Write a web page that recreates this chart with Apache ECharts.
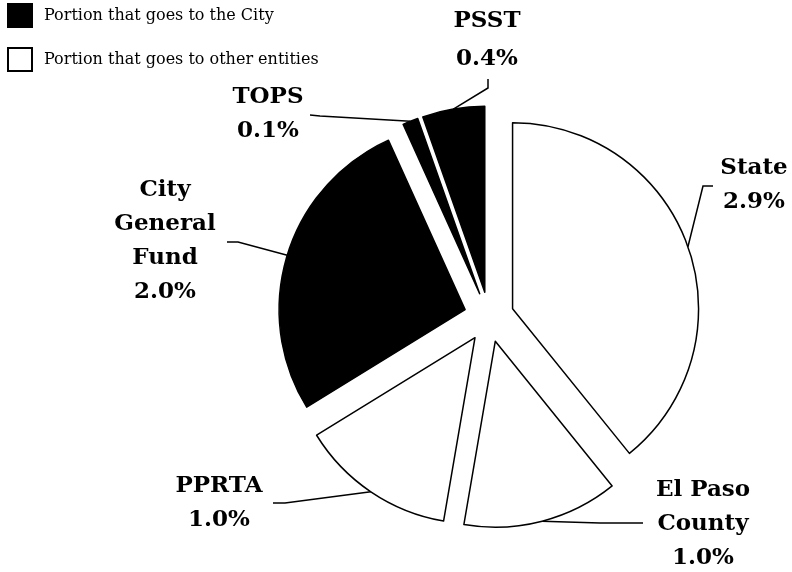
<!DOCTYPE html>
<html>
<head>
<meta charset="utf-8">
<title>Tax rate split</title>
<script src="https://cdn.jsdelivr.net/npm/echarts@6/dist/echarts.min.js"></script>
<style>
  html, body { margin: 0; padding: 0; background: #fff; }
  #chart { width: 792px; height: 572px; }
</style>
</head>
<body>
<div id="chart"></div>
<script>
// slices, clockwise from 12 o'clock
const sliceNames = ['State', 'El Paso County', 'PPRTA', 'City General Fund', 'TOPS', 'PSST']
const sliceLabels = ['State', 'El Paso\nCounty', 'PPRTA', 'City\nGeneral\nFund', 'TOPS', 'PSST']
const sliceRates = [2.9, 1.0, 1.0, 2.0, 0.1, 0.4]
const goesToCity = [false, false, false, true, true, true]
const legendNames = ['Portion that goes to the City', 'Portion that goes to other entities']

// layout
const pieCenter = [489, 317]
const pieRadius = 186
const explode = 25
// label block centres and leader line bends (page pixels)
const labelSpots = [[754, 185], [703, 524], [219, 503], [165, 241], [268, 114], [487, 40]]
const leaderBends = [
  [[703, 186], [713, 186]],
  [[600, 523], [643, 523]],
  [[285, 503], [273, 503]],
  [[238, 242], [227, 242]],
  [[320, 116], [310, 115]],
  [[488, 88], [488, 79]]
]

const serif = 'DejaVu Serif'
const total = sliceRates.reduce((a, b) => a + b, 0)

// each slice is pulled out along its own bisector, so every slice gets
// its own pie series with a shifted centre (others left invisible)
function sliceCenter(idx) {
  let before = 0
  for (let i = 0; i < idx; i++) before += sliceRates[i]
  const mid = -Math.PI / 2 + (before + sliceRates[idx] / 2) / total * Math.PI * 2
  return [pieCenter[0] + Math.cos(mid) * explode, pieCenter[1] + Math.sin(mid) * explode]
}

const hidden = {
  itemStyle: { color: 'rgba(0,0,0,0)', borderWidth: 0 },
  label: { show: false },
  labelLine: { show: false }
}

function sliceSeries(k) {
  return {
    name: sliceNames[k],
    type: 'pie',
    center: sliceCenter(k),
    radius: pieRadius,
    startAngle: 90,
    clockwise: true,
    silent: true,
    label: {
      show: true,
      position: 'outside',
      fontFamily: serif,
      fontWeight: 'bold',
      fontSize: 23,
      lineHeight: sliceNames[k] === 'PSST' ? 38 : 34,
      color: '#000',
      formatter: p => sliceLabels[p.dataIndex] + '\n' + p.value.toFixed(1) + '%'
    },
    labelLine: {
      show: true,
      length: 10,
      length2: 10,
      lineStyle: { color: '#000', width: 1.5 }
    },
    labelLayout: function (p) {
      if (p.dataIndex !== k) return {}
      const pts = p.labelLinePoints || [[0, 0]]
      return {
        x: labelSpots[k][0],
        y: labelSpots[k][1],
        align: 'center',
        verticalAlign: 'middle',
        labelLinePoints: [pts[0]].concat(leaderBends[k])
      }
    },
    data: sliceNames.map((name, i) => i === k
      ? {
          name: name,
          value: sliceRates[i],
          itemStyle: {
            color: goesToCity[i] ? '#000' : '#fff',
            borderColor: '#000',
            borderWidth: 1.5
          }
        }
      : Object.assign({ name: name, value: sliceRates[i] }, hidden))
  }
}

const chart = echarts.init(document.getElementById('chart'))

chart.setOption({
  animation: false,
  backgroundColor: '#fff',
  grid: { show: false, left: 0, top: 0, width: 10, height: 10 },
  xAxis: { show: false, type: 'value' },
  yAxis: { show: false, type: 'value' },
  legend: {
    orient: 'vertical',
    left: 7,
    top: 3,
    padding: 0,
    itemWidth: 24,
    itemHeight: 23,
    itemGap: 19,
    selectedMode: false,
    data: legendNames.map(n => ({ name: n, icon: 'rect' })),
    textStyle: {
      fontFamily: serif,
      fontSize: 16,
      color: '#000',
      padding: [0, 0, 0, 7]
    }
  },
  series: [
    {
      name: legendNames[0],
      type: 'scatter',
      data: [],
      itemStyle: { color: '#000', opacity: 1, borderColor: '#000', borderWidth: 1.5 }
    },
    {
      name: legendNames[1],
      type: 'scatter',
      data: [],
      itemStyle: { color: '#fff', opacity: 1, borderColor: '#000', borderWidth: 1.5 }
    }
  ].concat(sliceNames.map((n, k) => sliceSeries(k)))
})
</script>
</body>
</html>
